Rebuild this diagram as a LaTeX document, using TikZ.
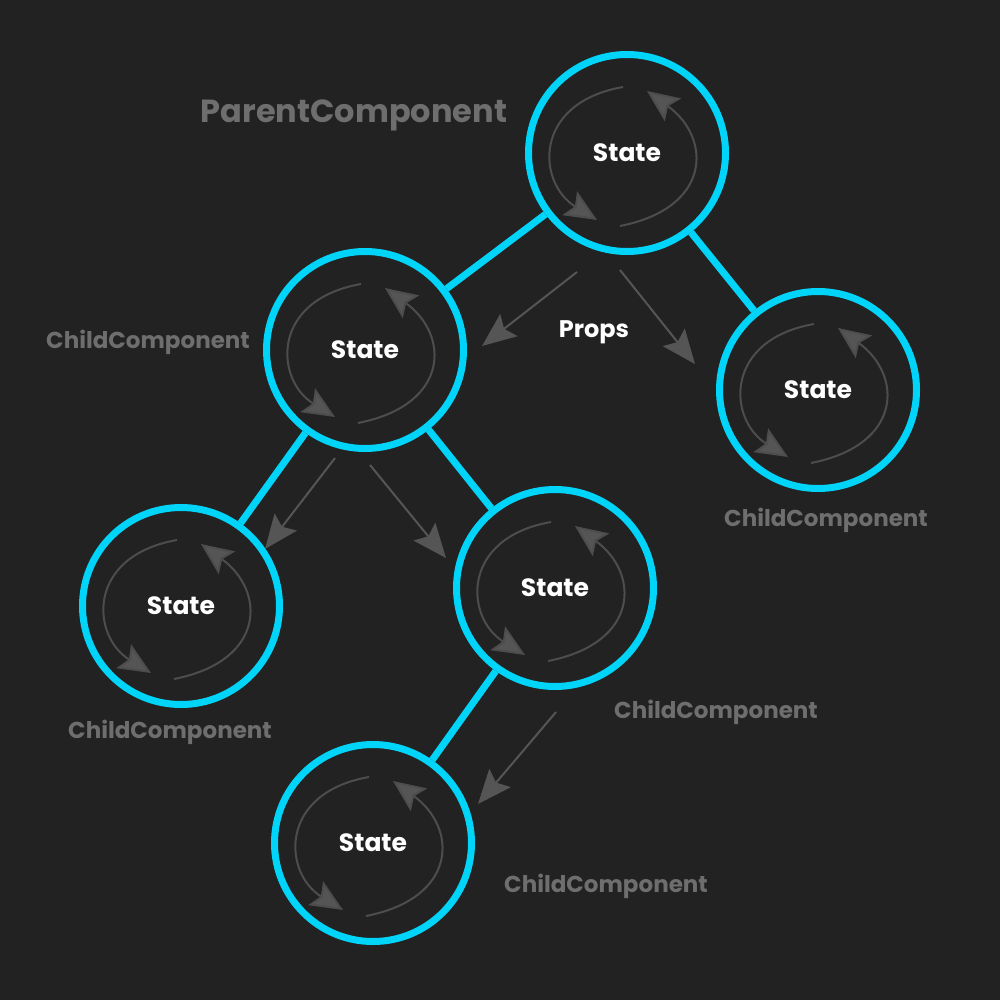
\documentclass[tikz,border=0pt]{standalone}
\usepackage{fontspec}
\setmainfont{Poppins}
\usetikzlibrary{positioning,arrows.meta}

\definecolor{bgdark}{HTML}{222222}
\definecolor{reactcyan}{HTML}{00D4F8}
\definecolor{arrowgray}{HTML}{555555}
\definecolor{labelgray}{HTML}{6E6E6E}

\begin{document}
\begin{tikzpicture}[
    x=1pt, y=-1pt,
    comp/.style={draw=reactcyan, line width=7pt, circle, minimum size=197pt, inner sep=0pt,
                 text=white, font=\bfseries\fontsize{25}{27}\selectfont}, % Style for components
    link/.style={draw=reactcyan, line width=7pt},
    flow/.style={draw=arrowgray, line width=2pt, -{Stealth[length=34pt, width=28pt, inset=6pt]}},
    swirl/.style={draw=arrowgray!85!bgdark, line width=2pt, -{Stealth[length=32pt, width=28pt, inset=6pt, fill=arrowgray]}},
    tag/.style={text=labelgray, font=\bfseries\fontsize{23}{26}\selectfont}
]

% Background
\fill[bgdark] (0,0) rectangle (1000,1000);
\useasboundingbox (0,0) rectangle (1000,1000);

% Components
\node[comp] (parent) at (627,153) {State};
\node[comp] (childA) at (365,350) {State};
\node[comp] (childB) at (818,390) {State};
\node[comp] (childC) at (181,606) {State};
\node[comp] (childD) at (555,588) {State};
\node[comp] (childE) at (373,843) {State};

% State swirl inside each component
\foreach \n in {parent, childA, childB, childC, childD, childE} {
  \begin{scope}[shift={(\n.center)}]
    \draw[swirl] (-4,-66) .. controls (-95,-50) and (-90,30) .. (-30,67);
    \draw[swirl] (-7,73) .. controls (85,55) and (85,-15) .. (20,-62);
  \end{scope}
}

% Tree links
\draw[link] (parent) -- (childA);
\draw[link] (parent) -- (childB);
\draw[link] (childA) -- (childC);
\draw[link] (childA) -- (childD);
\draw[link] (childD) -- (childE);

% Component labels
\node[tag, font=\bfseries\fontsize{32}{36}\selectfont] (parentlbl) at (354,115) {ParentComponent};
\node[tag] (lblA) at (148,342) {ChildComponent};
\node[tag] (lblB) at (826,520) {ChildComponent};
\node[tag] (lblC) at (170,732) {ChildComponent};
\node[tag] (lblD) at (716,712) {ChildComponent};
\node[tag] (lblE) at (606,886) {ChildComponent};

% Props flowing down
\node[text=white, font=\bfseries\fontsize{24}{26}\selectfont] (props) at (594,332) {Props};
\coordinate (pA1) at (577,272); \coordinate (pA2) at (482,346);
\coordinate (pB1) at (620,270); \coordinate (pB2) at (695,364);
\coordinate (pC1) at (335,458); \coordinate (pC2) at (265,549);
\coordinate (pD1) at (370,465); \coordinate (pD2) at (446,558);
\coordinate (pE1) at (556,712); \coordinate (pE2) at (478,804);
\draw[flow] (pA1) -- (pA2);
\draw[flow] (pB1) -- (pB2);
\draw[flow] (pC1) -- (pC2);
\draw[flow] (pD1) -- (pD2);
\draw[flow] (pE1) -- (pE2);

\end{tikzpicture}
\end{document}
